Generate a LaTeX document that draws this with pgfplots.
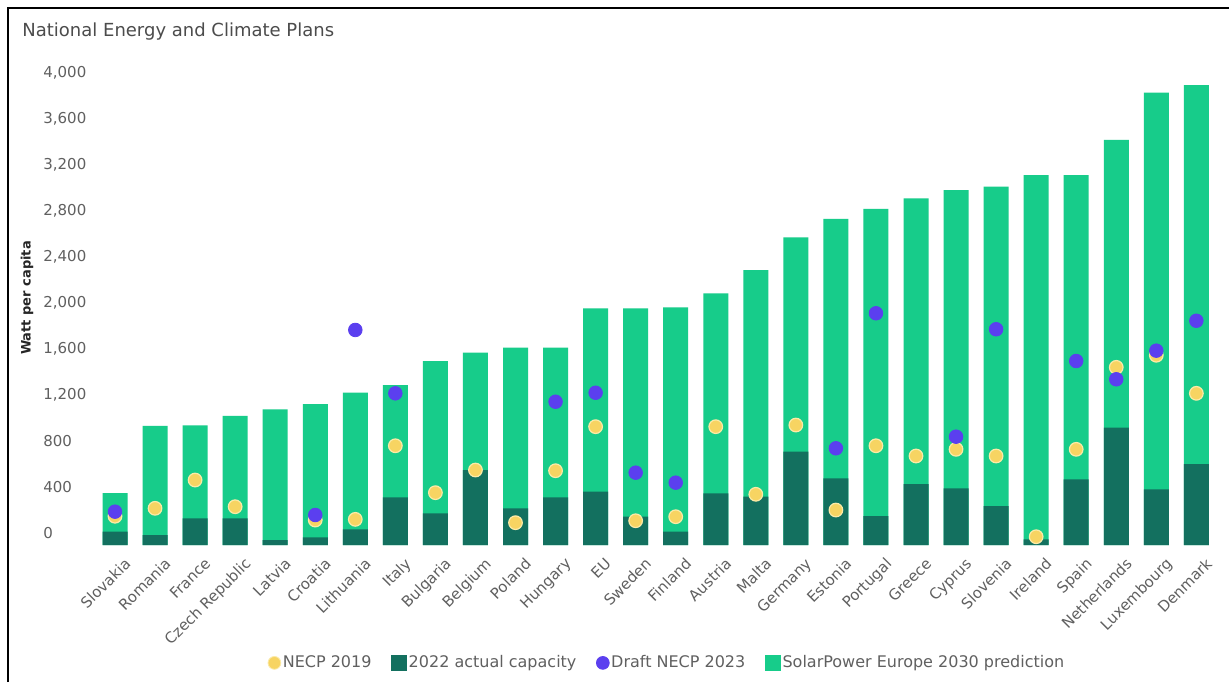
\documentclass[border=0pt]{standalone}
\usepackage{fontspec}
\setmainfont{DejaVu Sans}
\usepackage{pgfplots}
\usepackage{pgfplotstable}
\pgfplotsset{compat=1.18}
\definecolor{cgreen}{HTML}{17CC8A}
\definecolor{cdark}{HTML}{13705F}
\definecolor{cyellow}{HTML}{F7D462}
\definecolor{cyring}{HTML}{FBEAA8}
\definecolor{cblue}{HTML}{5B3FEF}
\definecolor{ctext}{HTML}{606060}

\pgfplotstableread{
idx green dark
0 452 116
1 1035 87
2 1040 232
3 1122 232
4 1180 43
5 1226 67
6 1324 136
7 1391 415
8 1600 275
9 1672 652
10 1716 319
11 1716 415
12 2058 464
13 2058 246
14 2067 116
15 2189 449
16 2391 420
17 2676 811
18 2835 580
19 2922 252
20 3015 530
21 3087 493
22 3116 339
23 3217 50
24 3217 571
25 3522 1020
26 3933 484
27 4000 704
}\bars

\pgfplotstableread{
idx val
0 250
1 319
2 565
3 333
5 217
6 223
7 863
8 455
9 652
10 194
11 646
12 1029
13 211
14 246
15 1029
16 441
17 1043
18 304
19 863
20 774
21 832
22 774
23 72
24 832
25 1545
26 1650
27 1319
}\necpnineteen

\pgfplotstableread{
idx val
0 290
5 261
6 1870
7 1319
11 1246
12 1324
13 629
14 542
18 841
19 2015
21 942
22 1876
24 1600
25 1441
26 1690
27 1950
}\drafttwentythree

\begin{document}
\begin{tikzpicture}
\path[use as bounding box] (0,0) rectangle (614.5pt,341pt);
\fill[white] (0,0) rectangle (614.5pt,341pt);
\draw[line width=1pt] (4pt,0) -- (4pt,337pt) -- (614.5pt,337pt);
\node[anchor=west, inner sep=0pt, font=\fontsize{9}{11}\selectfont, text=black!70] at (11pt,325pt) {National Energy and Climate Plans};
\node[rotate=90, inner sep=0pt, font=\fontsize{6.5}{8}\selectfont\bfseries, text=black!85] at (13.5pt,192pt) {Watt per capita};
\begin{axis}[
  anchor=origin, at={(57.5pt,68.5pt)},
  x=20.025pt, y=0.0575pt,
  xmin=-0.8, xmax=27.8, ymin=0, ymax=4100,
  clip=false,
  axis line style={draw=none},
  major tick style={draw=none},
  xtick={0,...,27},
  xticklabels={Slovakia,Romania,France,Czech Republic,Latvia,Croatia,Lithuania,Italy,Bulgaria,Belgium,Poland,Hungary,EU,Sweden,Finland,Austria,Malta,Germany,Estonia,Portugal,Greece,Cyprus,Slovenia,Ireland,Spain,Netherlands,Luxembourg,Denmark},
  xticklabel style={rotate=45, anchor=north east, inner sep=0pt, font=\fontsize{7.5}{9}\selectfont, text=ctext, xshift=-1pt, yshift=-7pt},
  ytick={0,400,...,4000},
  yticklabels={0,400,800,{1,200},{1,600},{2,000},{2,400},{2,800},{3,200},{3,600},{4,000}},
  yticklabel style={anchor=west, inner sep=0pt, xshift=-20pt, yshift=6pt, font=\fontsize{7.5}{9}\selectfont, text=ctext},
  legend image code/.code={\draw[#1] plot coordinates {(3.5pt,0pt)};},
  legend style={at={(axis description cs:0.51,-0.25)}, anchor=center, draw=none, fill=none,
    legend columns=4, font=\fontsize{8}{9}\selectfont, text=ctext,
    /tikz/every even column/.append style={column sep=9pt},
    nodes={inner xsep=1pt}},
]
\addplot[ybar, bar width=12.5pt, bar shift=0pt, fill=cgreen, draw=none, forget plot] table[x=idx, y=green] {\bars};
\addplot[ybar, bar width=12.5pt, bar shift=0pt, fill=cdark, draw=none, forget plot] table[x=idx, y=dark] {\bars};
\addplot[only marks, mark=*, mark size=3.4pt, mark options={fill=cyellow, draw=cyring, line width=0.6pt}, forget plot] table[x=idx, y=val] {\necpnineteen};
\addplot[only marks, mark=*, mark size=3.4pt, mark options={fill=cblue, draw=cblue}, forget plot] table[x=idx, y=val] {\drafttwentythree};
\addlegendimage{only marks, mark=*, mark size=3.2pt, mark options={fill=cyellow, draw=cyring}}
\addlegendentry{NECP 2019}
\addlegendimage{only marks, mark=square*, mark size=3.8pt, mark options={fill=cdark, draw=cdark}}
\addlegendentry{2022 actual capacity}
\addlegendimage{only marks, mark=*, mark size=3.2pt, mark options={fill=cblue, draw=cblue}}
\addlegendentry{Draft NECP 2023}
\addlegendimage{only marks, mark=square*, mark size=3.8pt, mark options={fill=cgreen, draw=cgreen}}
\addlegendentry{SolarPower Europe 2030 prediction}
\end{axis}
\end{tikzpicture}
\end{document}
